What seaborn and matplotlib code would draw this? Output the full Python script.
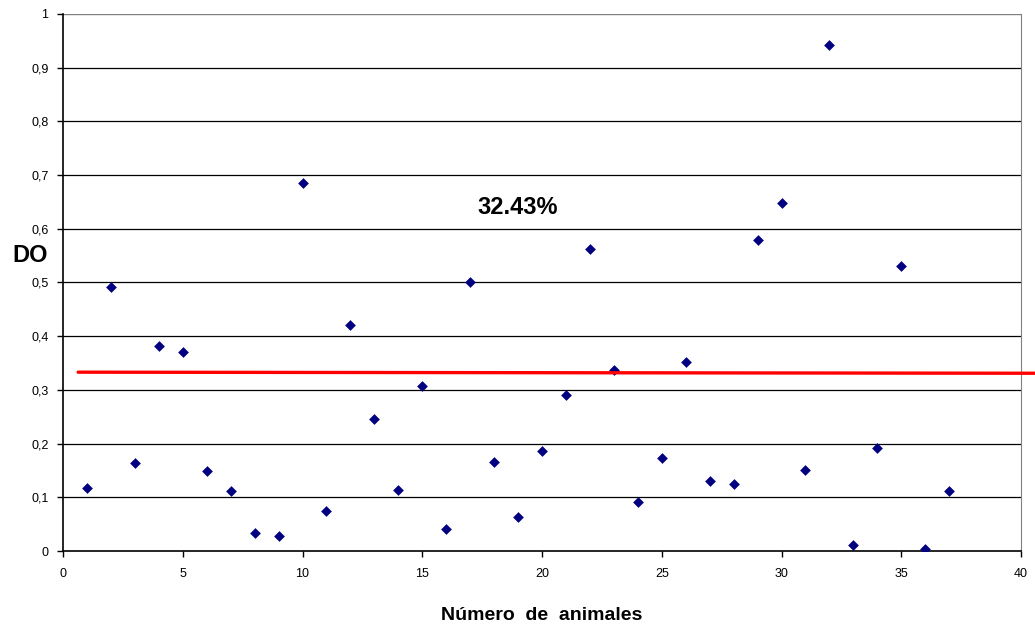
import matplotlib.pyplot as plt
import pandas as pd
import seaborn as sns

# Data
animales = list(range(1, 38))
do_values = [0.117, 0.492, 0.164, 0.382, 0.371, 0.149, 0.112, 0.034, 0.028, 0.685,
             0.074, 0.421, 0.246, 0.114, 0.307, 0.041, 0.501, 0.166, 0.063, 0.186,
             0.291, 0.562, 0.337, 0.091, 0.173, 0.352, 0.130, 0.125, 0.579, 0.648,
             0.151, 0.942, 0.011, 0.192, 0.531, 0.004, 0.112]
cutoff = 0.333
cutoff_x = [0.63, 40.6]
porcentaje = "32.43%"

df = pd.DataFrame({"animal": animales, "DO": do_values})

sns.set_style("white")
plt.rcParams['font.family'] = ['Liberation Sans', 'DejaVu Sans']
plt.rcParams['text.color'] = 'black'
plt.rcParams['axes.labelcolor'] = 'black'
plt.rcParams['xtick.color'] = 'black'
plt.rcParams['ytick.color'] = 'black'

fig = plt.figure(figsize=(10.35, 6.27), dpi=100)
ax = fig.add_axes([0.0609, 0.1212, 0.9256, 0.8565])

# Gridlines
for yv in [i / 10 for i in range(1, 10)]:
    ax.axhline(yv, color='black', lw=0.9, zorder=0)
ax.axhline(1.0, color='#808080', lw=1.0, zorder=0)

sns.scatterplot(data=df, x="animal", y="DO", ax=ax, marker='D', s=30,
                color='#000080', edgecolor='#000080', linewidth=0, zorder=3)

# Red cutoff line
ax.plot(cutoff_x, [cutoff, cutoff - 0.002], color='red', lw=2.4, clip_on=False, zorder=4)

ax.text(19.0, 0.639, porcentaje, fontsize=17, fontweight='bold', ha='center', va='center')

ax.set_xlim(0, 40)
ax.set_ylim(0, 1)
ax.set_xticks(range(0, 41, 5))
ax.set_yticks([i / 10 for i in range(0, 11)])
ax.set_yticklabels(['0'] + [f"0,{i}" for i in range(1, 10)] + ['1'])
ax.tick_params(axis='both', direction='out', length=4, width=1, labelsize=9,
               bottom=True, left=True)
ax.tick_params(axis='y', pad=6.5)
ax.tick_params(axis='x', pad=8)

for side in ['left', 'bottom']:
    ax.spines[side].set_color('black')
    ax.spines[side].set_linewidth(1.2)
ax.spines['right'].set_color('#808080')
ax.spines['top'].set_visible(False)

ax.set_xlabel("Número  de  animales", fontsize=14, fontweight='bold', labelpad=20)
ax.set_ylabel("DO", fontsize=17, fontweight='bold', rotation=0, va='center', ha='center')
ax.yaxis.set_label_coords(-0.034, 0.55)

fig.savefig('out.png', dpi=100)
